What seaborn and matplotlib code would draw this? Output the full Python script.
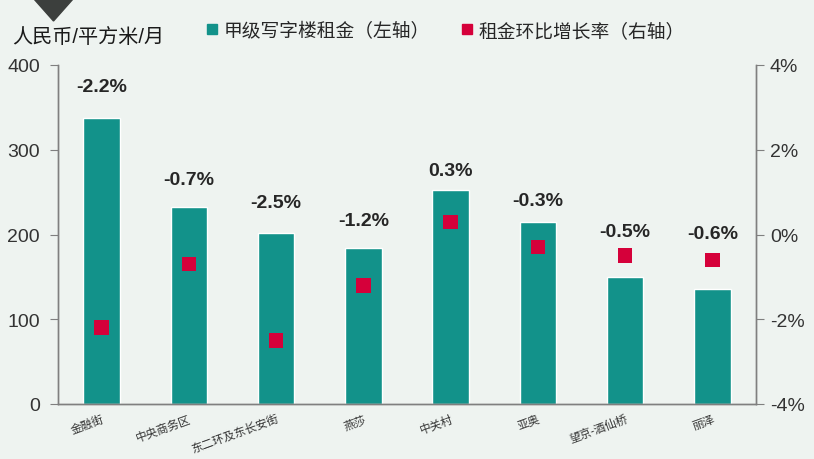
import numpy as np
import matplotlib
matplotlib.use("Agg")
import matplotlib.pyplot as plt
import seaborn as sns
from matplotlib.lines import Line2D
from matplotlib.patches import Polygon
from matplotlib.ticker import FuncFormatter

# data
regions = ['金融街', '中央商务区', '东二环及东长安街', '燕莎', '中关村', '亚奥', '望京-酒仙桥', '丽泽']
rent = [338, 232, 202, 184, 252, 215, 150, 136]          # 人民币/平方米/月
growth = [-2.2, -0.7, -2.5, -1.2, 0.3, -0.3, -0.5, -0.6]  # 环比 %

# vertical offset (points) of each growth label above its bar
label_offsets = [22, 20, 21.5, 20, 14, 15, 33, 40]

teal = '#12928a'
red = '#d5003a'
bg = '#eef3f0'
axis_grey = '#7f7f7f'
txt = '#333333'

sns.set_style('white')
plt.rcParams['font.family'] = ['Liberation Sans', 'Noto Sans CJK SC', 'DejaVu Sans']
plt.rcParams['axes.unicode_minus'] = False

fig = plt.figure(figsize=(8.14, 4.6), dpi=100, facecolor=bg)
ax = fig.add_axes([58 / 814, 55 / 460, 698 / 814, 339 / 460])
ax.set_facecolor(bg)

sns.barplot(x=regions, y=rent, color=teal, width=0.42, saturation=1, ax=ax)
ax.set_xlim(-0.5, len(regions) - 0.5)
ax.set_ylim(0, 400)
ax.set_yticks([0, 100, 200, 300, 400])

# right axis: growth markers
ax2 = ax.twinx()
sns.scatterplot(x=np.arange(len(regions)), y=growth, marker='s', s=110, color=red,
                edgecolor='none', ax=ax2, legend=False, zorder=3)
ax2.set_ylim(-4, 4)
ax2.set_yticks([-4, -2, 0, 2, 4])
ax2.yaxis.set_major_formatter(FuncFormatter(lambda v, p: f'{v:.0f}%'))

# growth labels above bars (drawn on top axis so they sit over the markers)
for i, (r, g, off) in enumerate(zip(rent, growth, label_offsets)):
    ax2.annotate(f'{g:.1f}%', (i, r), xycoords=ax.transData, xytext=(0, off),
                 textcoords='offset points', ha='center', va='center',
                 fontsize=14, fontweight='bold', color='#262626', zorder=5)

# x ticks: labels at centres, tick marks at category boundaries
ax.set_xticks(range(len(regions)))
ax.set_xticklabels(regions, rotation=20, ha='right', va='top', rotation_mode='anchor',
                   fontsize=8.3, color=txt)
ax.set_xticks(np.arange(-0.5, len(regions)), minor=True)
ax.tick_params(axis='x', which='major', length=0, pad=6)
ax.tick_params(axis='x', which='minor', length=6, color=axis_grey, direction='out')
ax.tick_params(axis='y', length=6, color=axis_grey, direction='out', labelsize=14, labelcolor=txt, pad=7)
ax2.tick_params(axis='y', length=6, color=axis_grey, direction='out', labelsize=14, labelcolor=txt, pad=4)
ax.set_xlabel('')
ax.set_ylabel('')
ax2.set_ylabel('')

for a in (ax, ax2):
    a.spines['top'].set_visible(False)
    for s in ('left', 'right', 'bottom'):
        a.spines[s].set_color(axis_grey)
        a.spines[s].set_linewidth(1)
ax2.set_facecolor('none')

# unit label and small triangle marker at top-left
fig.text(12 / 814, 1 - 37 / 460, '人民币/平方米/月', fontsize=14.5, color='#1a1a1a', va='center', ha='left')
fig.patches.append(Polygon([(34 / 814, 1.0), (73 / 814, 1.0), (53.5 / 814, 1 - 22 / 460)],
                           closed=True, transform=fig.transFigure, color='#3c3f3d'))

handles = [Line2D([], [], marker='s', linestyle='none', color=teal, markersize=7.5),
           Line2D([], [], marker='s', linestyle='none', color=red, markersize=7.5)]
fig.legend(handles, ['甲级写字楼租金（左轴）', '租金环比增长率（右轴）'], ncol=2, frameon=False,
           loc='center left', bbox_to_anchor=(186 / 814, 1 - 32 / 460), fontsize=13.5,
           handletextpad=0.1, columnspacing=1.5, handlelength=1.0, labelcolor='#262626')

fig.savefig('out.png', dpi=100, facecolor=bg)
